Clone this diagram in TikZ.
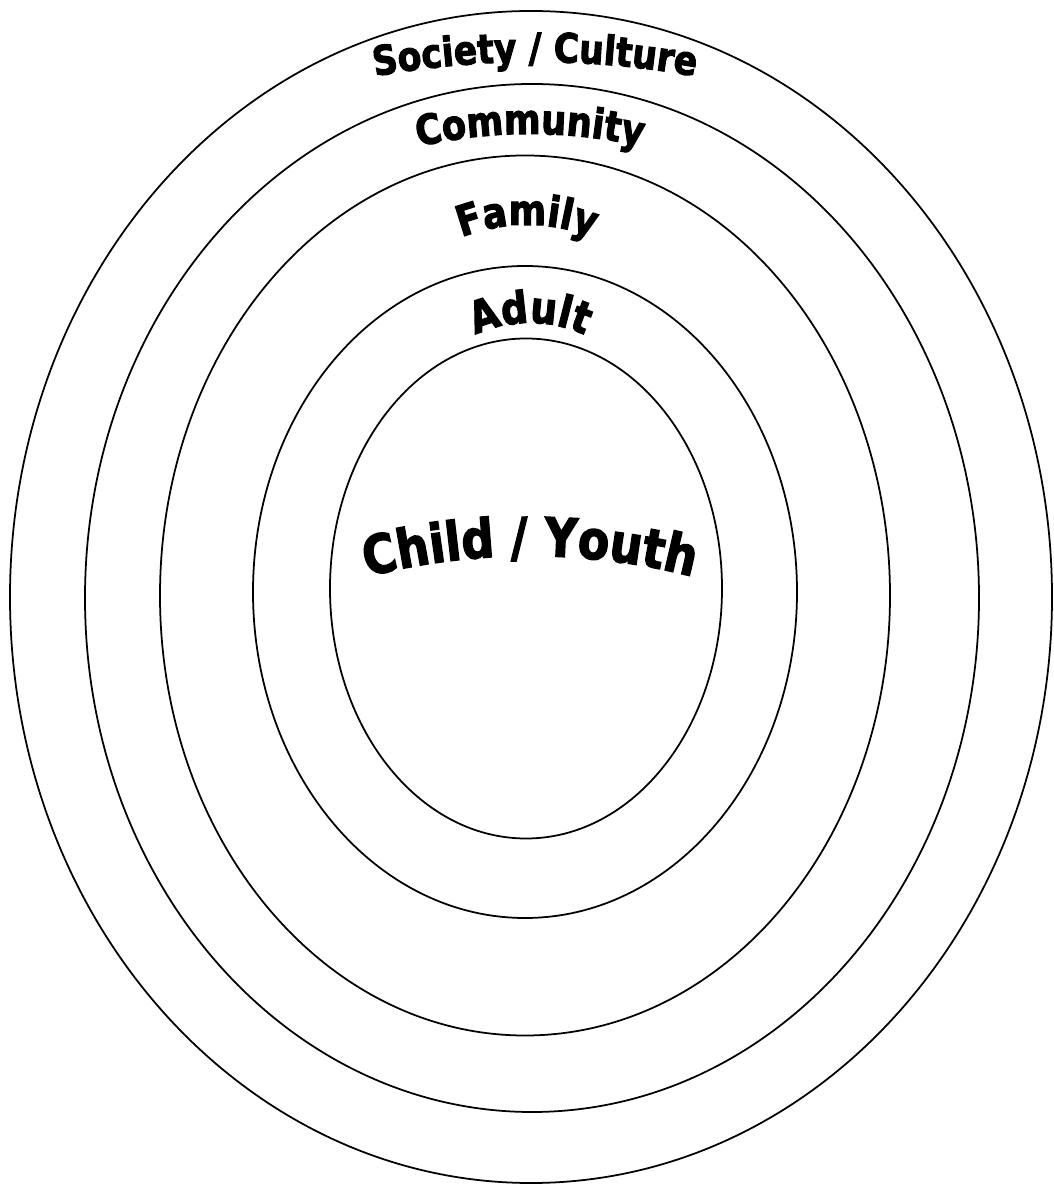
\documentclass[tikz,border=0pt]{standalone}
\usepackage{fontspec}
\newfontfamily\ringfont{DejaVu Sans}[FakeStretch=0.85, BoldFeatures={FakeBold=2.5}]
\usetikzlibrary{decorations.text,shapes.geometric}

\begin{document}
\begin{tikzpicture}[
		x=0.2mm, y=0.2mm,
		ring/.style={draw, ellipse, line width=1pt, inner sep=0pt},
		arclabel/.style={decorate, decoration={text along path, text align=center}}
	]
	\useasboundingbox (0,0) rectangle (1054,1186);

	% nested rings, outside in
	\node[ring, minimum width=20.84cm, minimum height=23.44cm] (society) at (531,589) {};
	\node[ring, minimum width=17.88cm, minimum height=20.56cm] (community) at (532,588) {};
	\node[ring, minimum width=14.6cm, minimum height=17.6cm] (family) at (525,590.5) {};
	\node[ring, minimum width=10.88cm, minimum height=13.04cm] (adult) at (525,594) {};
	\node[ring, minimum width=7.84cm, minimum height=10cm] (child) at (526,597.5) {};

	% curved labels
	\path[arclabel, decoration={text={|\ringfont\bfseries\fontsize{23pt}{28pt}\selectfont|Society / Culture}}]
		([shift={(104:900)}]535,224) arc[start angle=104, end angle=76, radius=900];
	\path[arclabel, decoration={text={|\ringfont\bfseries\fontsize{23.5pt}{28pt}\selectfont|Community}}]
		([shift={(115:500)}]530,552) arc[start angle=115, end angle=65, radius=500];
	\path[arclabel, decoration={text={|\ringfont\bfseries\fontsize{24pt}{28pt}\selectfont|Family}}]
		([shift={(140:180)}]527,781) arc[start angle=140, end angle=40, radius=180];
	\path[arclabel, decoration={text={|\ringfont\bfseries\fontsize{25pt}{28pt}\selectfont|Adult}}]
		([shift={(150:130)}]530,733) arc[start angle=150, end angle=30, radius=130];
	\path[arclabel, decoration={text={|\ringfont\bfseries\fontsize{30.5pt}{34pt}\selectfont|Child / Youth}}]
		([shift={(112:650)}]530,-20) arc[start angle=112, end angle=68, radius=650];
\end{tikzpicture}
\end{document}
